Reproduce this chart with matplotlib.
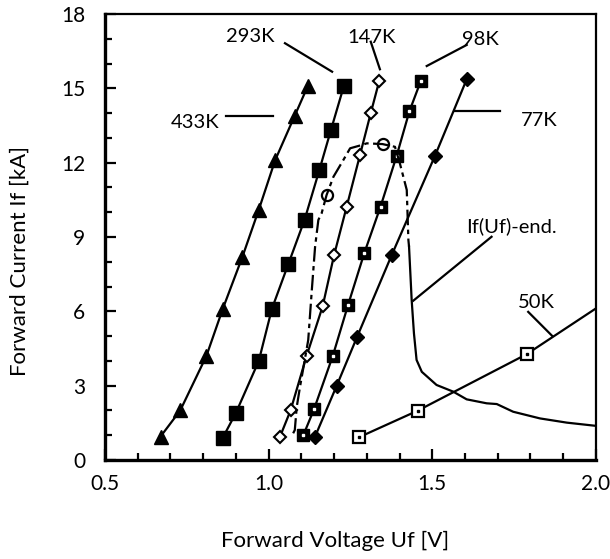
import matplotlib
matplotlib.use('Agg')
import matplotlib.pyplot as plt
from matplotlib.ticker import MultipleLocator

plt.rcParams['font.family'] = ['Lato', 'DejaVu Sans']

# 433K (filled triangles)
v_433 = [0.67, 0.73, 0.81, 0.86, 0.92, 0.97, 1.02, 1.08, 1.12]
i_433 = [0.95, 2.0, 4.2, 6.1, 8.2, 10.1, 12.1, 13.9, 15.1]
# 293K (filled squares)
v_293 = [0.86, 0.90, 0.97, 1.01, 1.06, 1.11, 1.155, 1.19, 1.23]
i_293 = [0.9, 1.9, 4.0, 6.1, 7.9, 9.7, 11.7, 13.3, 15.1]
# 147K (open diamonds)
v_147 = [1.035, 1.067, 1.116, 1.165, 1.20, 1.238, 1.279, 1.312, 1.338]
i_147 = [0.95, 2.0, 4.2, 6.2, 8.27, 10.2, 12.3, 14.0, 15.3]
# 98K (filled squares with dot)
v_98 = [1.106, 1.139, 1.196, 1.243, 1.292, 1.342, 1.391, 1.43, 1.465]
i_98 = [1.0, 2.06, 4.2, 6.27, 8.34, 10.23, 12.27, 14.07, 15.3]
# 77K (filled diamonds)
v_77 = [1.142, 1.208, 1.27, 1.376, 1.508, 1.605]
i_77 = [0.95, 3.0, 4.96, 8.27, 12.27, 15.36]
# 50K (open squares with dot), last point is where the line leaves the frame
v_50 = [1.276, 1.455, 1.788, 2.0]
i_50 = [0.92, 1.99, 4.27, 6.12]

# If(Uf) end curve: dashed part (measured loop) and solid part
v_end_dash = [1.075, 1.080, 1.086, 1.096, 1.121, 1.132, 1.142, 1.152, 1.162, 1.177,
              1.198, 1.228, 1.249, 1.284, 1.30, 1.348, 1.386, 1.401, 1.422, 1.427, 1.429]
i_end_dash = [1.08, 1.21, 2.15, 2.96, 4.84, 6.86, 8.61, 9.69, 9.96, 10.69,
              11.43, 12.1, 12.58, 12.71, 12.78, 12.75, 12.64, 11.97, 10.9, 8.88, 8.61]
v_end = [1.429, 1.437, 1.444, 1.452, 1.468, 1.513, 1.564, 1.605, 1.666, 1.697,
         1.747, 1.829, 1.911, 2.0]
i_end = [8.61, 6.46, 5.11, 4.04, 3.56, 3.03, 2.76, 2.45, 2.29, 2.26,
         1.95, 1.68, 1.51, 1.38]
v_circles = [1.177, 1.348]
i_circles = [10.69, 12.75]

fig = plt.figure(figsize=(6.1, 5.59), dpi=100)
ax = fig.add_axes([0.172, 0.177, 0.805, 0.798])

lw = 1.6
ax.plot(v_433, i_433, '-', color='black', lw=lw, marker='^', ms=10, mfc='black', mec='black')
ax.plot(v_293, i_293, '-', color='black', lw=lw, marker='s', ms=9.5, mfc='black', mec='black')
ax.plot(v_147, i_147, '-', color='black', lw=lw, marker='D', ms=6.5, mfc='white', mec='black', mew=1.5)
ax.plot(v_98, i_98, '-', color='black', lw=lw, marker='s', ms=9, mfc='black', mec='black')
ax.plot(v_98, i_98, ls='none', marker='s', ms=2, mfc='white', mec='white')
ax.plot(v_77, i_77, '-', color='black', lw=lw, marker='D', ms=7, mfc='black', mec='black')
ax.plot(v_50, i_50, '-', color='black', lw=lw, marker='s', ms=9, mfc='white', mec='black',
        mew=1.6, markevery=[0, 1, 2])
ax.plot(v_50[:3], i_50[:3], ls='none', marker='s', ms=2, mfc='black', mec='black')

ax.plot(v_end_dash, i_end_dash, color='black', lw=1.6, dashes=(7, 2, 2, 2))
ax.plot(v_end, i_end, color='black', lw=1.6)
ax.plot(v_circles, i_circles, ls='none', marker='o', ms=8, mfc='none', mec='black', mew=1.6)

# labels with leader lines
labels = [
    ('293K', 0.943, 17.11, [1.050, 1.194], [16.82, 15.67]),
    ('433K', 0.775, 13.64, [0.870, 1.014], [13.88, 13.88]),
    ('147K', 1.313, 17.07, [1.312, 1.340], [16.88, 15.77]),
    ('98K', 1.646, 16.99, [1.605, 1.483], [16.75, 15.9]),
    ('77K', 1.826, 13.72, [1.569, 1.707], [14.08, 14.08]),
    ('If(Uf)-end.', 1.743, 9.44, [1.681, 1.442], [9.01, 6.43]),
    ('50K', 1.817, 6.35, [1.793, 1.867], [5.98, 5.0]),
]
for txt, tx, ty, lx, ly in labels:
    ax.text(tx, ty, txt, ha='center', va='center', fontsize=14.5)
    ax.plot(lx, ly, color='black', lw=1.6)

ax.set_xlim(0.5, 2.0)
ax.set_ylim(0, 18)
ax.xaxis.set_minor_locator(MultipleLocator(0.1))
ax.yaxis.set_major_locator(MultipleLocator(3))
ax.yaxis.set_minor_locator(MultipleLocator(1))
ax.set_xticks([0.5, 1.0, 1.5, 2.0])
ax.set_xticklabels(['0.5', '1.0', '1.5', '2.0'])

ax.tick_params(which='both', direction='in', top=False, right=False, width=1.6, labelsize=15)
ax.tick_params(axis='y', which='major', length=8, pad=14)
ax.tick_params(axis='y', which='minor', length=5)
ax.tick_params(axis='x', which='major', length=8, pad=10)
ax.tick_params(axis='x', which='minor', length=5)

for s in ['left', 'bottom']:
    ax.spines[s].set_linewidth(2.4)
for s in ['top', 'right']:
    ax.spines[s].set_linewidth(1.6)

ax.set_xlabel('Forward Voltage Uf [V]', fontsize=16)
ax.set_ylabel('Forward Current If [kA]', fontsize=16)
ax.xaxis.set_label_coords(0.468, -0.158)
ax.yaxis.set_label_coords(-0.153, 0.446)

fig.savefig('out.png', dpi=100)
